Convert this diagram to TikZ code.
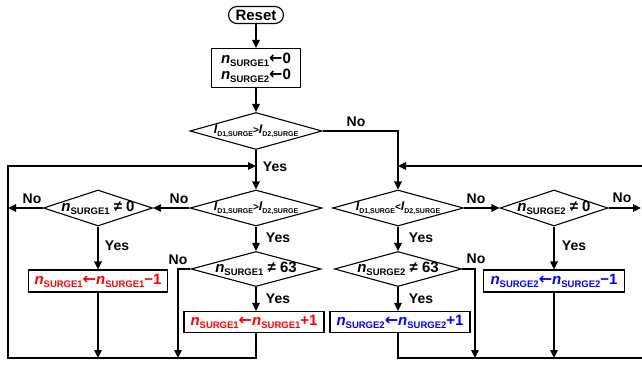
\documentclass[tikz,border=0pt]{standalone}
\usepackage{fontspec}
\setmainfont{Liberation Sans}
\newfontfamily\arrowfont{DejaVu Sans}
\usepackage{xcolor}
\usepackage{tikz}
\usetikzlibrary{positioning}
\usetikzlibrary{shapes.geometric}
\usetikzlibrary{arrows.meta}

\definecolor{incred}{RGB}{255,0,0}
\definecolor{decblue}{RGB}{0,0,255}

\newcommand{\ns}[1]{{\itshape n}\raisebox{-3pt}{\fontsize{9.5}{10}\selectfont SURGE#1}}
\newcommand{\cur}[1]{{\fontsize{12.5}{13}\selectfont\itshape I}\raisebox{-2.5pt}{\fontsize{7}{8}\selectfont D#1,SURGE}}
\newcommand{\tight}[1]{\makebox[0pt]{#1}}
\newcommand{\setto}{{\arrowfont\bfseries\fontsize{16}{16}\selectfont←}}

\begin{document}
\begin{tikzpicture}
  [
    x=1pt, y=-1pt,
    line width=1.1pt,
    every node/.style={font=\fontsize{15}{16.5}\selectfont\bfseries},
    term/.style={
       draw,
       rounded corners=8.5pt,
       minimum width=55pt,
       minimum height=17pt,
       inner sep=0pt
    },
    proc/.style={
       draw,
       minimum width=#1,
       minimum height=22pt,
       inner sep=0pt
    },
    cond/.style={
       draw,
       diamond,
       minimum width=#1,
       minimum height=36pt,
       inner sep=0pt
    },
    lbl/.style={
       inner sep=0pt,
       font=\fontsize{14}{16}\selectfont\bfseries
    },
    flow/.style={
       -{Triangle[length=8pt, width=7.5pt]}
    }
  ]
  \useasboundingbox (0,0) rectangle (642,364);

  % start
  \node (reset) at (256, 15) [term] {Reset};
  \node (init)  at (256, 68) [proc=89pt, minimum height=39pt, align=center]
        {\ns{1}\setto0\\\ns{2}\setto0};
  \node (cmp1)  at (256,131) [cond=132pt, minimum height=37pt]
        {\tight{\cur{1}{\fontsize{10}{12}\selectfont>}\cur{2}}};

  % left branch
  \node (cmp2)  at (256,208) [cond=132pt]
        {\tight{\cur{1}{\fontsize{10}{12}\selectfont>}\cur{2}}};
  \node (chk1)  at ( 98,208) [cond=109pt] {\tight{\ns{1} ≠ 0}};
  \node (max1)  at (256,269) [cond=130pt, minimum height=35pt] {\tight{\ns{1} ≠ 63}};
  \node (dec1)  at ( 98,281) [proc=139pt, text=incred] {\ns{1}\setto\ns{1}−1};
  \node (inc1)  at (254,322) [proc=140pt, minimum height=21pt, text=incred] {\ns{1}\setto\ns{1}+1};

  % right branch
  \node (cmp3)  at (398,208) [cond=131pt]
        {\tight{\cur{1}{\fontsize{10}{12}\selectfont<}\cur{2}}};
  \node (chk2)  at (554,208) [cond=108pt] {\tight{\ns{2} ≠ 0}};
  \node (max2)  at (398,269) [cond=127pt, minimum height=35pt] {\tight{\ns{2} ≠ 63}};
  \node (dec2)  at (554,281) [proc=141pt, text=decblue] {\ns{2}\setto\ns{2}−1};
  \node (inc2)  at (400,322) [proc=140pt, minimum height=21pt, text=decblue] {\ns{2}\setto\ns{2}+1};

  \coordinate (lbot)   at (  8,358);
  \coordinate (ltop)   at (  8,166);
  \coordinate (ljoin)  at (256,166);
  \coordinate (lno)    at (  8,208);
  \coordinate (s1skip) at (178,358);
  \coordinate (rbot)   at (648,358);
  \coordinate (rtop)   at (648,166);
  \coordinate (rjoin)  at (398,166);
  \coordinate (rno)    at (641,208);
  \coordinate (s2skip) at (475,358);

  \draw [flow] (reset) -- (init);
  \draw [flow] (init) -- (cmp1);
  \draw [flow] (cmp1) -- (cmp2);
  \draw [flow] (cmp1.east) -| (cmp3);

  \draw [flow] (cmp2.west) -- (chk1.east);
  \draw [flow] (chk1.west) -- (lno);
  \draw [flow] (chk1) -- (dec1);
  \draw [flow] (dec1) -- (dec1 |- lbot);
  \draw [flow] (cmp2) -- (max1);
  \draw [flow] (max1.west) -| (s1skip);
  \draw [flow] (max1) -- (max1 |- inc1.north);
  \draw [flow] (inc1.south -| ljoin) |- (lbot) -- (ltop) -- (ljoin);

  \draw [flow] (cmp3.east) -- (chk2.west);
  \draw [flow] (chk2.east) -- (rno);
  \draw [flow] (chk2) -- (dec2);
  \draw [flow] (dec2) -- (dec2 |- rbot);
  \draw [flow] (cmp3) -- (max2);
  \draw [flow] (max2.east) -| (s2skip);
  \draw [flow] (max2) -- (max2 |- inc2.north);
  \draw [flow] (inc2.south -| rjoin) |- (rbot) -- (rtop) -- (rjoin);

  % branch labels
  \node (nocmp1)  at (356,122) [lbl] {No};
  \node (yescmp1) at (275,167) [lbl] {Yes};
  \node (nocmp2)  at (179,199) [lbl] {No};
  \node (nochk1)  at ( 32,199) [lbl] {No};
  \node (yeschk1) at (117,246) [lbl] {Yes};
  \node (yescmp2) at (278,238) [lbl] {Yes};
  \node (nomax1)  at (178,260) [lbl] {No};
  \node (yesmax1) at (278,299) [lbl] {Yes};
  \node (nocmp3)  at (476,199) [lbl] {No};
  \node (nochk2)  at (622,198) [lbl] {No};
  \node (yeschk2) at (574,246) [lbl] {Yes};
  \node (yescmp3) at (421,238) [lbl] {Yes};
  \node (nomax2)  at (476,259) [lbl] {No};
  \node (yesmax2) at (421,299) [lbl] {Yes};
\end{tikzpicture}
\end{document}
